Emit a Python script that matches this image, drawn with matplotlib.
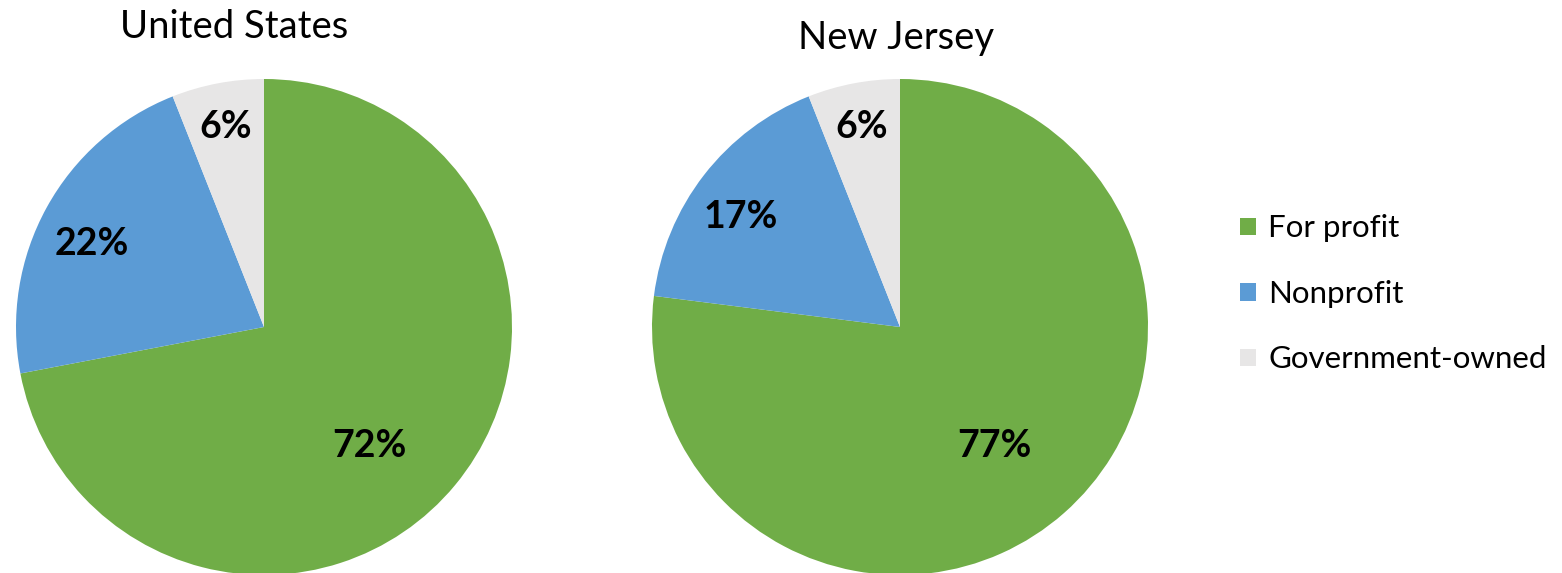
import matplotlib.pyplot as plt
import numpy as np

plt.rcParams['font.family'] = ['Lato', 'DejaVu Sans']

categories = ['For profit', 'Nonprofit', 'Government-owned']
us_values = [72, 22, 6]
nj_values = [77, 17, 6]
colors = ['#70AD47', '#5B9BD5', '#E7E6E6']

W, H = 1562, 573
fig = plt.figure(figsize=(W / 100, H / 100), dpi=100)


def draw_pie(cx, cy, r, values, title, title_y, title_x, shifts, dists):
    ax = fig.add_axes([(cx - r) / W, 1 - (cy + r) / H, 2 * r / W, 2 * r / H])
    wedges, _ = ax.pie(values, colors=colors, startangle=90, counterclock=False,
                       wedgeprops=dict(linewidth=0))
    ax.set_xlim(-1, 1)
    ax.set_ylim(-1, 1)
    ax.axis('off')
    for w, v, s, d in zip(wedges, values, shifts, dists):
        ang = np.deg2rad((w.theta1 + w.theta2) / 2 + s)
        ax.text(d * np.cos(ang), d * np.sin(ang), f'{v}%', ha='center', va='center',
                fontsize=27, fontweight='bold', color='black')
    fig.text(title_x / W, 1 - title_y / H, title, ha='center', va='center', fontsize=27.5)
    return wedges


wedges = draw_pie(264, 327, 248, us_values, 'United States', 27, 234,
                  [-9, 3, 0], [0.64, 0.77, 0.82])
draw_pie(900, 327, 248, nj_values, 'New Jersey', 38, 896,
         [-3, 3, 0], [0.61, 0.78, 0.82])

fig.legend(wedges, categories, loc='center left', bbox_to_anchor=(1240 / W, 1 - 294 / H),
           frameon=False, fontsize=22.5, handlelength=0.5, handleheight=0.5,
           handletextpad=0.4, labelspacing=1.2, borderpad=0, borderaxespad=0)

fig.savefig('out.png', dpi=100)
